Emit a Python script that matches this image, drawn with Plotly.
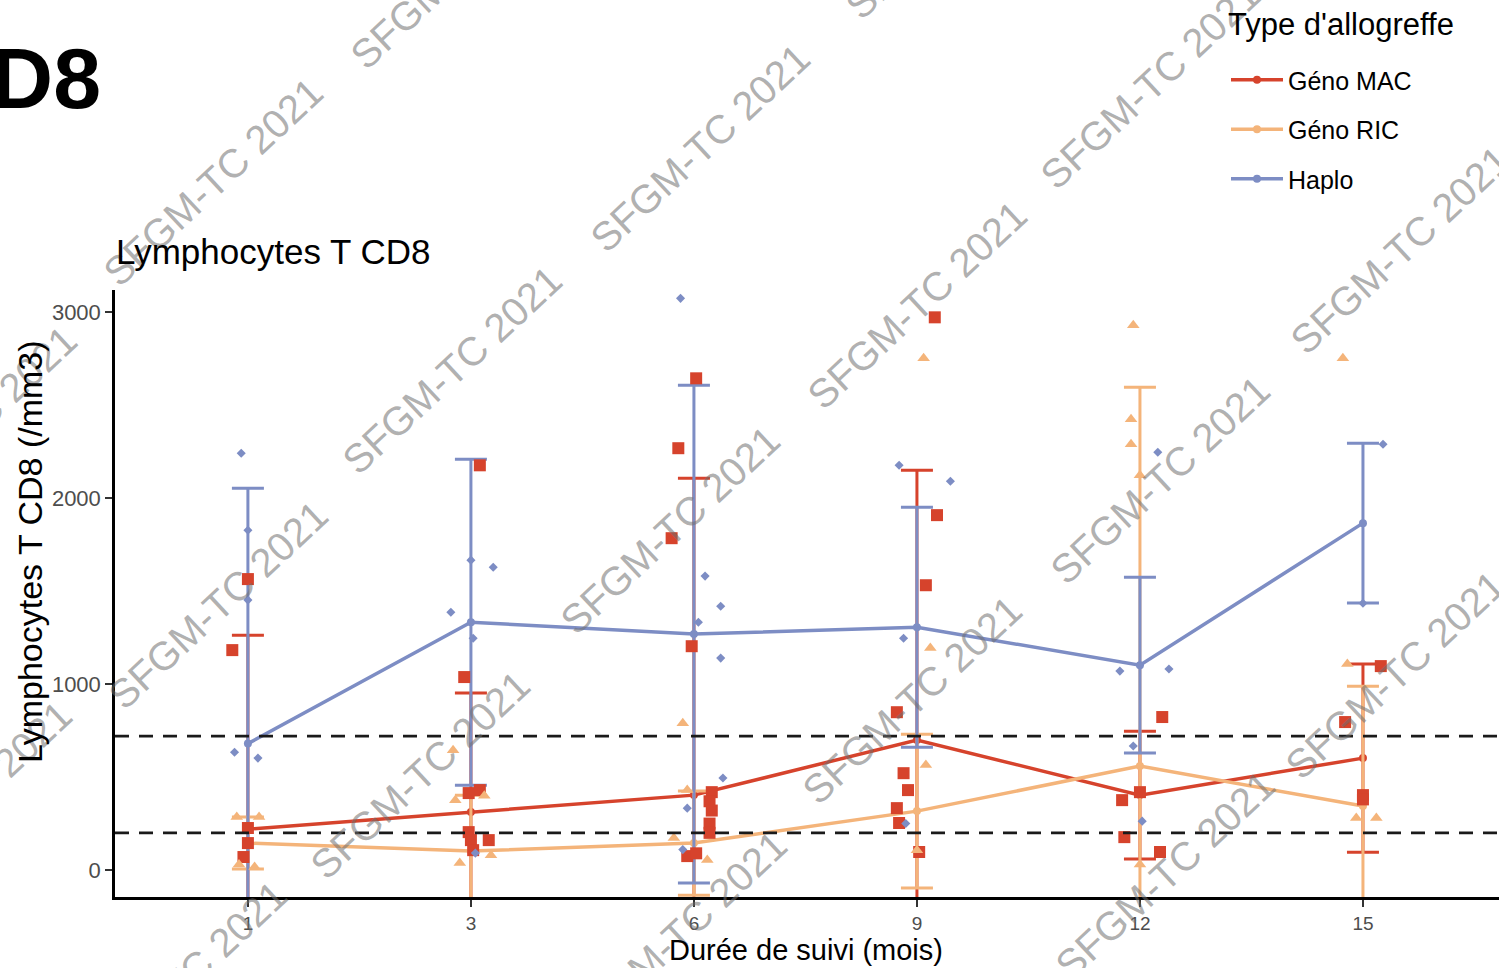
import plotly.graph_objects as go

# Follow-up months (categorical axis)
months = ["1", "3", "6", "9", "12", "15"]
groups = ["Géno MAC", "Géno RIC", "Haplo"]

# Group means and standard deviations (CD8 T cells, /mm3)
mac_mean = [220, 312, 403, 699, 403, 602]
mac_sd = [1043, 640, 1705, 1451, 344, 506]
ric_mean = [145, 102, 145, 317, 559, 344]
ric_sd = [140, 300, 280, 414, 2038, 645]
haplo_mean = [680, 1333, 1269, 1306, 1102, 1866]
haplo_sd = [1374, 877, 1339, 646, 473, 430]

# Individual patient values per month
mac_values = [
    [1565, 1183, 226, 145, 70],
    [2177, 1038, 430, 414, 204, 161, 161, 107],
    [2645, 2269, 1785, 1204, 419, 370, 320, 250, 200, 75, 90],
    [2973, 1909, 1532, 849, 521, 430, 333, 253, 97],
    [823, 419, 376, 177, 97],
    [1097, 796, 403, 380],
]
ric_values = [
    [285, 285, 16, 30],
    [645, 376, 400, 38, 80],
    [790, 430, 172, 54],
    [2753, 1194, 565, 107],
    [2930, 2425, 2290, 2124, 30],
    [2753, 1108, 280, 280],
]
haplo_values = [
    [2242, 1828, 1452, 634, 602],
    [1667, 1629, 1387, 1247, 91],
    [3075, 1581, 1419, 1333, 1140, 495, 333, 110],
    [2177, 2091, 1247, 250],
    [2247, 1070, 1081, 667, 263],
    [2290, 1435],
]

# Horizontal jitter of the points (in category units)
mac_jitter = [
    [0.0, -0.07, 0.0, 0.0, -0.02],
    [0.04, -0.03, 0.04, -0.01, -0.01, 0.0, 0.08, 0.01],
    [0.01, -0.07, -0.10, -0.01, 0.08, 0.07, 0.08, 0.07, 0.07, -0.03, 0.01],
    [0.08, 0.09, 0.04, -0.09, -0.06, -0.04, -0.09, -0.08, 0.01],
    [0.10, 0.0, -0.08, -0.07, 0.09],
    [0.08, -0.08, 0.0, 0.0],
]
ric_jitter = [
    [-0.05, 0.05, 0.03, -0.04],
    [-0.08, -0.07, 0.06, -0.05, 0.09],
    [-0.05, -0.03, -0.09, 0.06],
    [0.03, 0.06, 0.04, 0.0],
    [-0.03, -0.04, -0.04, 0.0, 0.0],
    [-0.09, -0.07, -0.03, 0.06],
]
haplo_jitter = [
    [-0.03, 0.0, 0.0, -0.06, 0.045],
    [0.0, 0.10, -0.09, 0.01, 0.02],
    [-0.06, 0.05, 0.12, 0.02, 0.12, 0.13, -0.03, -0.05],
    [-0.08, 0.15, -0.06, -0.05],
    [0.08, -0.09, 0.13, -0.03, 0.01],
    [0.09, 0.0],
]

# Reference range limits
ref_lines = [200, 720]

colors = {"Géno MAC": "#D6432C", "Géno RIC": "#F4B47A", "Haplo": "#7D8DC4"}
symbols = {"Géno MAC": "square", "Géno RIC": "triangle-up", "Haplo": "diamond"}
sizes = {"Géno MAC": 12, "Géno RIC": 11, "Haplo": 7}

means = {"Géno MAC": mac_mean, "Géno RIC": ric_mean, "Haplo": haplo_mean}
sds = {"Géno MAC": mac_sd, "Géno RIC": ric_sd, "Haplo": haplo_sd}
values = {"Géno MAC": mac_values, "Géno RIC": ric_values, "Haplo": haplo_values}
jitters = {"Géno MAC": mac_jitter, "Géno RIC": ric_jitter, "Haplo": haplo_jitter}

idx = list(range(len(months)))

fig = go.Figure()

# Mean lines with SD error bars
for g in groups:
    fig.add_trace(go.Scatter(
        x=idx, y=means[g], name=g, mode="lines+markers",
        line=dict(color=colors[g], width=3.5),
        marker=dict(color=colors[g], size=8, symbol="circle"),
        error_y=dict(type="data", array=sds[g], visible=True,
                     color=colors[g], thickness=3, width=16),
        legendgroup=g, showlegend=True,
    ))

# Individual points
for g in groups:
    xs, ys = [], []
    for k, (vals, jit) in enumerate(zip(values[g], jitters[g])):
        for v, j in zip(vals, jit):
            xs.append(k + j)
            ys.append(v)
    fig.add_trace(go.Scatter(
        x=xs, y=ys, mode="markers", showlegend=False, legendgroup=g,
        marker=dict(color=colors[g], size=sizes[g], symbol=symbols[g],
                    line=dict(width=0)),
        cliponaxis=True,
    ))

# Dashed reference lines
for v in ref_lines:
    fig.add_shape(type="line", xref="paper", x0=0, x1=1, yref="y", y0=v, y1=v,
                  line=dict(color="#1a1a1a", width=2.8, dash="14px,10px"),
                  layer="above")

# Layout geometry (pixels)
L, R, T, B = 115, 0, 290, 71
W, H = 1499, 968
PW, PH = W - L - R, H - T - B


def px(xp, yp):
    return (xp - L) / PW, (H - B - yp) / PH


annotations = []

# Watermark
wm_centers = [
    (213, 182), (460, -35), (700, 148), (955, -85), (1150, 85), (1400, 250),
    (452, 370), (917, 305), (1160, 480), (-33, 430), (218, 605), (670, 530),
    (912, 700), (1395, 675), (-38, 805), (420, 775), (1165, 875), (677, 935),
    (177, 985),
]
for cx, cy in wm_centers:
    xp, yp = px(cx, cy)
    annotations.append(dict(
        text="SFGM-TC 2021", x=xp, y=yp, xref="paper", yref="paper",
        xanchor="center", yanchor="middle", showarrow=False, textangle=-43,
        font=dict(family="Liberation Sans, Arial", size=40,
                  color="rgba(110,110,110,0.55)"),
    ))

xp, yp = px(103, 78)
annotations.append(dict(text="<b>CD8</b>", x=xp, y=yp, xref="paper", yref="paper",
                        xanchor="right", yanchor="middle", showarrow=False,
                        font=dict(family="Liberation Sans, Arial", size=86, color="black")))
xp, yp = px(114, 252)
annotations.append(dict(text="Lymphocytes T CD8", x=xp, y=yp, xref="paper", yref="paper",
                        xanchor="left", yanchor="middle", showarrow=False,
                        font=dict(family="Liberation Sans, Arial", size=35, color="black")))
xp, yp = px(30, 552)
annotations.append(dict(text="Lymphocytes T CD8 (/mm3)", x=xp, y=yp, xref="paper", yref="paper",
                        xanchor="center", yanchor="middle", showarrow=False, textangle=-90,
                        font=dict(family="Liberation Sans, Arial", size=34, color="black")))
xp, yp = px(806, 950)
annotations.append(dict(text="Durée de suivi (mois)", x=xp, y=yp, xref="paper", yref="paper",
                        xanchor="center", yanchor="middle", showarrow=False,
                        font=dict(family="Liberation Sans, Arial", size=29, color="black")))
# Legend title
xp, yp = px(1226, 25)
annotations.append(dict(text="Type d'allogreffe", x=xp, y=yp, xref="paper", yref="paper",
                        xanchor="left", yanchor="middle", showarrow=False,
                        font=dict(family="Liberation Sans, Arial", size=31, color="black")))

lx, ly = px(1226, 57)
fig.update_layout(
    width=W, height=H,
    margin=dict(l=L, r=R, t=T, b=B, autoexpand=False),
    plot_bgcolor="white", paper_bgcolor="white",
    font=dict(family="Liberation Sans, Arial", color="black"),
    showlegend=True,
    legend=dict(
        x=lx, y=ly, xanchor="left", yanchor="top",
        font=dict(size=25), bgcolor="rgba(255,255,255,0)",
        tracegroupgap=14, itemwidth=52,
    ),
    xaxis=dict(
        range=[-0.596, 5.61], tickmode="array", tickvals=idx, ticktext=months,
        showline=True, linecolor="black", linewidth=2.5, mirror=False,
        ticks="outside", ticklen=7, tickwidth=2, tickcolor="#333333",
        tickfont=dict(size=19, color="#4D4D4D"), showgrid=False, zeroline=False,
    ),
    yaxis=dict(
        range=[-145, 3120], tickvals=[0, 1000, 2000, 3000],
        showline=True, linecolor="black", linewidth=2.5,
        ticks="outside", ticklen=7, tickwidth=2, tickcolor="#333333",
        tickfont=dict(size=22, color="#4D4D4D"), showgrid=False, zeroline=False,
    ),
    annotations=annotations,
)

fig.write_html("out.html")
